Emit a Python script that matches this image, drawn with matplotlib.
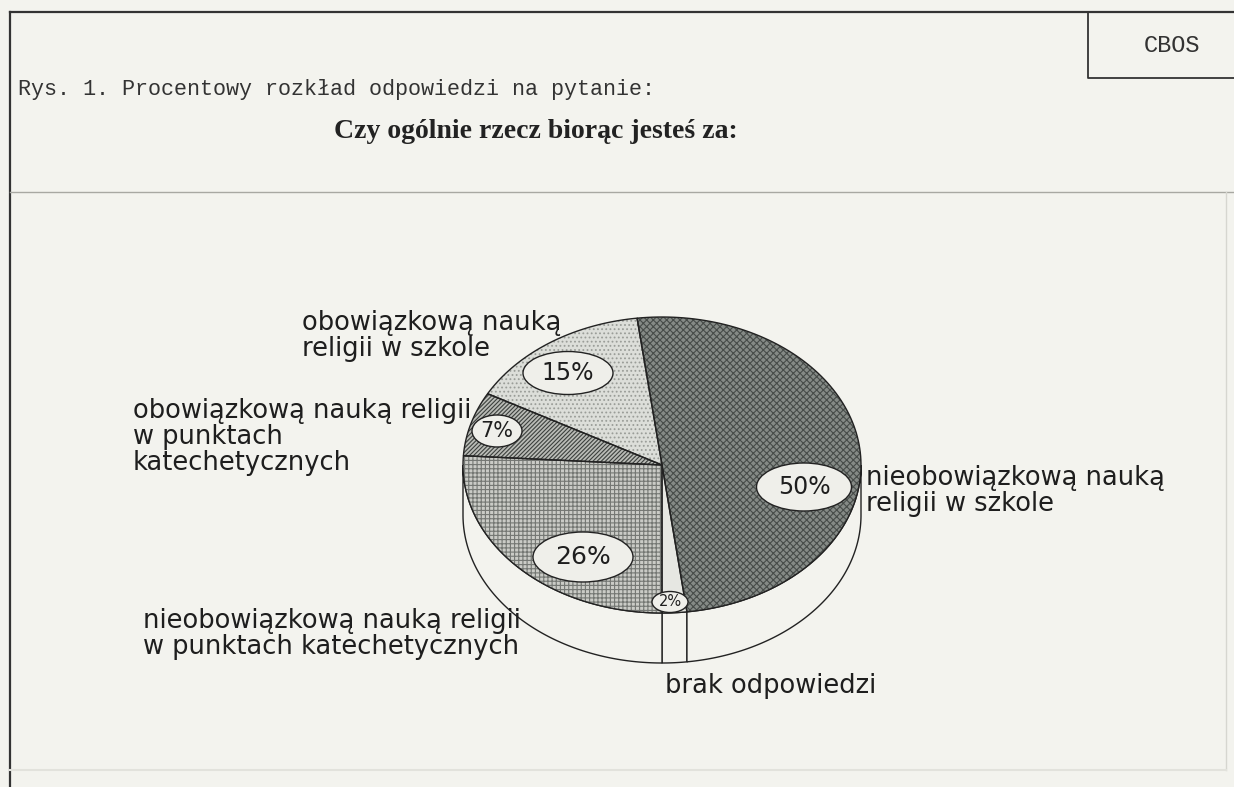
import numpy as np
import matplotlib.pyplot as plt
from matplotlib.patches import Polygon, Ellipse

# dane: odpowiedzi i udziały procentowe
answers = [
    "brak odpowiedzi",
    "nieobowiązkową nauką\nreligii w szkole",
    "obowiązkową nauką\nreligii w szkole",
    "obowiązkową nauką religii\nw punktach\nkatechetycznych",
    "nieobowiązkową nauką religii\nw punktach katechetycznych",
]
shares = [2, 50, 15, 7, 26]

BG = '#f3f3ee'
faces = ['#e6e7e2', '#858a86', '#dcded9', '#b9bbb6', '#cacbc6']
hatches = ['', 'xxxxx', '....', '////////', '++++']
hatch_cols = [BG, '#474c49', '#9a9d98', '#3c403d', '#747773']

# geometria tortu (piksele)
CX, CY, RX, RY, DEPTH, START = 662, 465, 199, 148, 50, 270

# ramki z procentami: x, y, szer., wys., rozmiar czcionki
pct_boxes = [(670, 602, 36, 21, 10.5), (804, 487, 95, 48, 17), (568, 373, 90, 43, 17),
             (497, 431, 50, 32, 15), (583, 557, 100, 50, 18)]
# podpisy: x, y
label_pos = [(665, 686), (866, 491), (302, 336), (133, 437), (143, 634)]

plt.rcParams['hatch.linewidth'] = 0.8

fig = plt.figure(figsize=(12.34, 7.87), dpi=100)
fig.patch.set_facecolor(BG)
ax = fig.add_axes([0, 0, 1, 1])
ax.set_xlim(0, 1234)
ax.set_ylim(787, 0)
ax.axis('off')


def arc(t1, t2, dy=0, n=120):
    t = np.radians(np.linspace(t1, t2, n))
    return np.column_stack([CX + RX * np.cos(t), CY + dy - RY * np.sin(t)])


total = sum(shares)
bounds = []
t = START
for s in shares:
    bounds.append((t, t + s / total * 360))
    t += s / total * 360

# boczna ściana (widoczna dolna połowa)
for t1, t2 in bounds:
    for sh in (-360, 0, 360):
        lo, hi = max(t1 + sh, 180), min(t2 + sh, 360)
        if hi > lo:
            pts = np.vstack([arc(lo, hi), arc(hi, lo, DEPTH)])
            ax.add_patch(Polygon(pts, closed=True, fc=BG, ec='#222222', lw=1.0, zorder=1))

# górne wycinki
for (t1, t2), fc, h, hc in zip(bounds, faces, hatches, hatch_cols):
    pts = np.vstack([[CX, CY], arc(t1, t2)])
    ax.add_patch(Polygon(pts, closed=True, fc=fc, ec='none', zorder=2))
    if h:
        ax.add_patch(Polygon(pts, closed=True, fc='none', ec=hc, lw=0, hatch=h, zorder=2))
    ax.add_patch(Polygon(pts, closed=True, fc='none', ec='#222222', lw=1.0, zorder=3))

# etykiety procentowe w elipsach
for s, (x, y, w, hgt, fs) in zip(shares, pct_boxes):
    ax.add_patch(Ellipse((x, y), w, hgt, fc='#efefea', ec='#222222', lw=1.0, zorder=4))
    ax.text(x, y, f"{s}%", ha='center', va='center', fontsize=fs,
            family='DejaVu Sans', color='#1e1e1e', zorder=5)

# podpisy kategorii
for txt, (x, y) in zip(answers, label_pos):
    ax.text(x, y, txt, ha='left', va='center', fontsize=18.5, linespacing=0.98,
            family='DejaVu Sans', color='#1e1e1e')

# ramka nagłówka
ax.plot([10, 1234], [12, 12], color='#333333', lw=1.6)
ax.plot([10, 10], [12, 787], color='#333333', lw=1.6)
ax.plot([1088, 1088, 1234], [12, 78, 78], color='#333333', lw=1.3)
ax.text(1172, 46, "CBOS", ha='center', va='center', fontsize=17,
        family='Liberation Mono', color='#333333')

ax.text(18, 90, "Rys. 1. Procentowy rozkład odpowiedzi na pytanie:", ha='left', va='center',
        fontsize=15.7, family='Liberation Mono', color='#333333')
ax.text(536, 132, "Czy ogólnie rzecz biorąc jesteś za:", ha='center', va='center',
        fontsize=20, family='Liberation Serif', fontweight='bold', color='#222222')

# panel wykresu
ax.plot([10, 1234], [192, 192], color='#a8a8a2', lw=1.0)
ax.plot([1226, 1226], [192, 770], color='#d6d6d0', lw=1.0)
ax.plot([10, 1226], [770, 770], color='#e2e2dc', lw=1.5)

fig.savefig('out.png', dpi=100, facecolor=BG)
